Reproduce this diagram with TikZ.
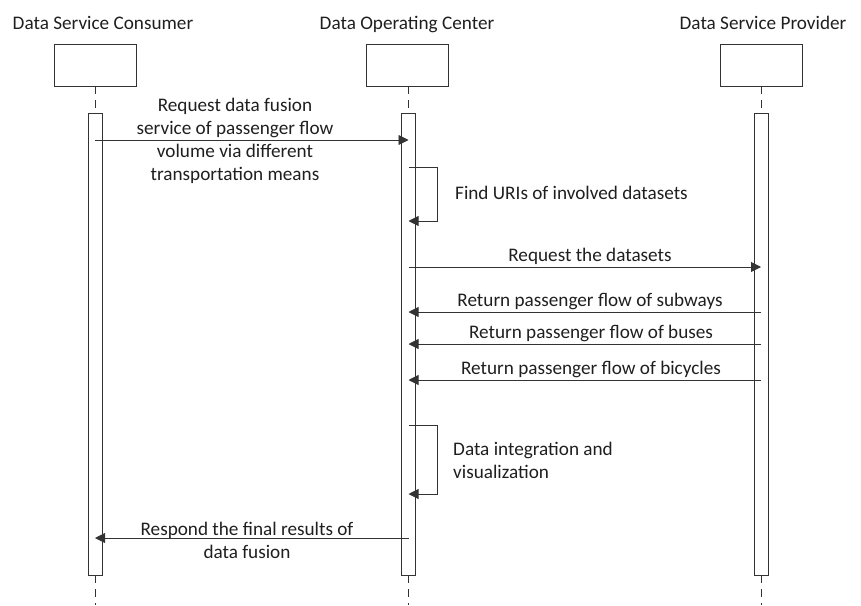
\documentclass[tikz,border=0pt]{standalone}
\usepackage{fontspec}
\setmainfont{Carlito}
\usetikzlibrary{arrows.meta}
\begin{document}
\begin{tikzpicture}[x=1pt,y=-1pt,
  ln/.style={line width=0.9pt, draw=black!80},
  txt/.style={font=\fontsize{19.2}{22.8}\selectfont, text=black!88, inner sep=0pt},
  head/.style={rectangle, ln, fill=white,
    minimum width=82pt, minimum height=42pt, inner sep=0pt},
  bar/.style={rectangle, ln, fill=white,
    minimum width=14pt, minimum height=462pt, inner sep=0pt},
  life/.style={ln, dash pattern=on 8pt off 6pt},
  msg/.style={ln, -{Triangle[length=10pt,width=10pt]}}]
  \useasboundingbox (0,0) rectangle (861,605);

  % participants
  \node[txt, anchor=base] (tC) at (103,29) {Data Service Consumer};
  \node[txt, anchor=base] (tD) at (407,29) {Data Operating Center};
  \node[txt, anchor=base] (tP) at (763,29) {Data Service Provider};
  \node[head] (hC) at (95,65) {};
  \node[head] (hD) at (407.5,65) {};
  \node[head] (hP) at (761.5,65) {};

  % lifelines
  \coordinate (eC) at (95,605);
  \coordinate (eD) at (408.5,605);
  \coordinate (eP) at (761,605);
  \node[bar] (bC) at (95,344) {};
  \node[bar] (bD) at (408.5,344) {};
  \node[bar] (bP) at (761,344) {};
  \draw[life] (hC.south) -- (hC.south |- bC.north);
  \draw[life] (hD.south -| bD.center) -- (bD.north);
  \draw[life] (hP.south -| bP.center) -- (bP.north);
  \draw[life] (bC.south) -- (eC);
  \draw[life] (bD.south) -- (eD);
  \draw[life] (bP.south) -- (eP);

  % request from the consumer
  \draw[msg] (bC.center |- 0,140) -- (bD.center |- 0,140);
  \node[txt, align=center] (m1) at (235,141)
    {Request data fusion\\service of passenger flow\\volume via different\\transportation means};

  % look-up of dataset URIs
  \coordinate (s1a) at (437,167);
  \coordinate (s1b) at (437,221);
  \draw[msg] (bD.center |- s1a) -- (s1a) -- (s1b) -- (bD.center |- s1b);
  \node[txt, anchor=west] (m2) at (455,193) {Find URIs of involved datasets};

  % datasets requested and returned
  \draw[msg] (bD.center |- 0,267) -- (bP.center |- 0,267);
  \node[txt, anchor=base] (m3) at (590,261) {Request the datasets};
  \draw[msg] (bP.center |- 0,312) -- (bD.center |- 0,312);
  \node[txt, anchor=base] (m4) at (590,306) {Return passenger flow of subways};
  \draw[msg] (bP.center |- 0,344) -- (bD.center |- 0,344);
  \node[txt, anchor=base] (m5) at (591,338) {Return passenger flow of buses};
  \draw[msg] (bP.center |- 0,380) -- (bD.center |- 0,380);
  \node[txt, anchor=base] (m6) at (591,374) {Return passenger flow of bicycles};

  % integration step
  \coordinate (s2a) at (437,425);
  \coordinate (s2b) at (437,494);
  \draw[msg] (bD.center |- s2a) -- (s2a) -- (s2b) -- (bD.center |- s2b);
  \node[txt, anchor=west, align=left] (m7) at (453,460)
    {Data integration and\\visualization};

  % final response
  \draw[msg] (bD.center |- 0,538) -- (bC.center |- 0,538);
  \node[txt, align=center] (m8) at (247,540)
    {Respond the final results of\\data fusion};
\end{tikzpicture}
\end{document}
